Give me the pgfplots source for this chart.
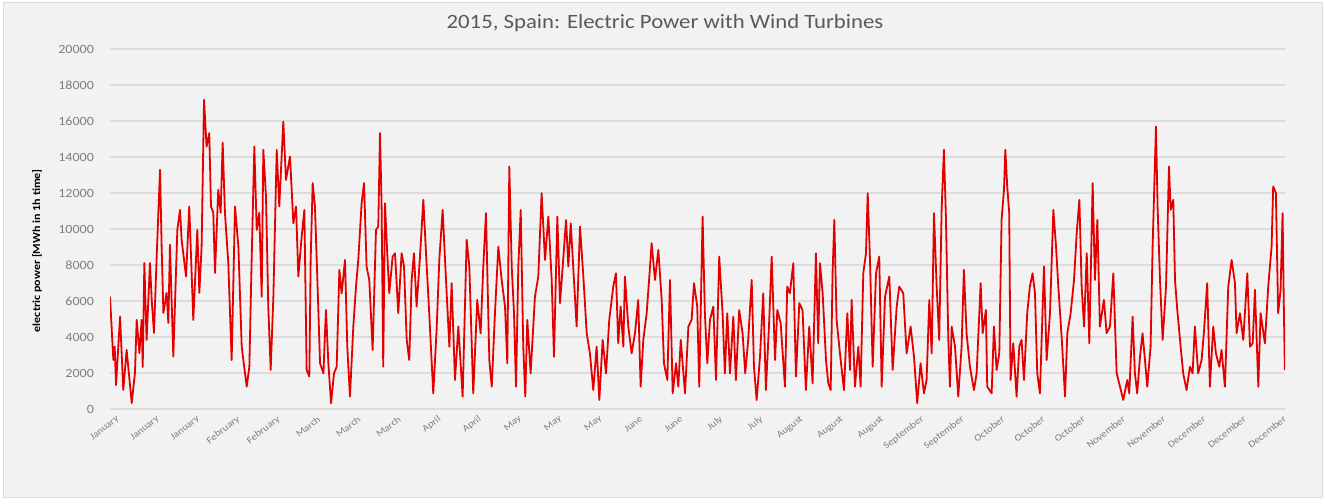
\documentclass[border=0pt]{standalone}
\usepackage{fontspec}
\setmainfont{Carlito}[FakeStretch=1.12]
\usepackage{pgfplots}
\pgfplotsset{compat=1.18}
\definecolor{titlegray}{HTML}{595959}
\definecolor{tickgray}{HTML}{7F7F7F}
\definecolor{bggray}{HTML}{F2F2F2}
\definecolor{gridgray}{HTML}{DCDCDC}
\definecolor{windred}{HTML}{E30000}

% hourly wind output 2015, hour of year vs MWh
\pgfplotstableread{
h v
0 6240
25 2720
35 3460
45 1330
75 5130
99 1060
124 3280
162 330
186 2000
199 4950
219 3110
236 4950
244 2330
256 8110
273 3840
298 8110
311 6060
328 4220
348 8470
373 13290
385 9030
398 5340
422 6450
435 4780
447 9120
472 2910
502 9950
522 11060
534 9400
567 7360
591 11250
621 4950
651 9950
666 6450
683 9030
701 17180
720 14580
740 15330
753 11250
770 10900
783 7560
807 12180
825 10900
840 14790
857 10900
882 8110
907 2720
932 11250
957 9030
982 3460
1019 1240
1039 2350
1056 8280
1076 14580
1094 9950
1113 10900
1131 6240
1143 14400
1163 11800
1180 5690
1198 2170
1218 6240
1243 14400
1262 11250
1292 15970
1312 12730
1342 14030
1367 10320
1387 11250
1404 7360
1429 9580
1449 11060
1466 2170
1486 1800
1496 8280
1511 12550
1528 11250
1546 7170
1566 2540
1591 1980
1610 5500
1628 2540
1648 320
1670 1980
1690 2350
1710 7730
1727 6430
1752 8280
1769 3460
1789 690
1814 4580
1834 6800
1851 8280
1876 11430
1894 12550
1913 7910
1933 7170
1958 3280
1983 9950
2000 10130
2013 15330
2025 11250
2037 2350
2050 11430
2067 8650
2082 6430
2107 8470
2125 8650
2149 5320
2174 8650
2192 7910
2212 3840
2231 2720
2249 7170
2266 8650
2286 5690
2311 8470
2336 11620
2356 8650
2380 5320
2410 870
2435 4390
2455 8280
2480 11060
2505 7170
2530 3460
2547 6990
2572 1610
2597 4580
2629 690
2659 9400
2679 7910
2708 870
2738 6060
2763 4210
2783 7910
2803 10880
2828 2720
2846 1240
2870 5320
2895 9020
2920 7170
2945 5690
2962 2540
2977 13470
2995 7910
3012 5320
3027 1240
3044 7910
3062 11060
3081 3460
3096 690
3111 4950
3136 1980
3168 6240
3193 7360
3218 11990
3243 8280
3268 10690
3293 7170
3310 2910
3335 10690
3355 5880
3375 7910
3400 10500
3417 7910
3435 10320
3459 7170
3479 4580
3504 10130
3529 7360
3554 4210
3578 3090
3603 1050
3628 3460
3648 500
3673 3840
3698 1980
3722 4950
3752 6800
3772 7540
3789 3650
3807 5690
3827 3460
3839 7360
3864 4580
3889 3090
3914 4210
3938 6060
3956 1240
3976 3840
4001 5320
4021 7360
4038 9210
4063 7170
4088 8840
4113 6060
4130 2540
4155 1610
4175 7170
4195 870
4220 2540
4237 1240
4255 3840
4287 870
4312 4580
4336 4950
4354 6990
4378 5690
4393 1240
4418 10690
4435 5320
4453 2540
4473 4950
4498 5690
4518 1610
4542 8470
4567 5320
4584 1980
4602 5320
4622 1980
4647 5130
4666 1610
4691 5500
4716 4210
4736 1980
4758 3840
4784 7170
4801 2350
4821 500
4846 2910
4870 6430
4890 1050
4915 4950
4933 8470
4958 2720
4975 5500
5000 4770
5032 1240
5049 6800
5069 6430
5094 8100
5114 1800
5139 5880
5163 5500
5188 1050
5213 4580
5238 1430
5263 8650
5280 3650
5293 8100
5313 6430
5338 2720
5355 1430
5373 1050
5387 7540
5400 10510
5417 4950
5442 3090
5472 1050
5497 5320
5517 2170
5529 6060
5554 1240
5579 3460
5596 1240
5616 7540
5636 8650
5649 11990
5666 8280
5686 2350
5711 7540
5735 8470
5753 1240
5778 6240
5810 7360
5835 2170
5865 5690
5884 6800
5914 6430
5939 3090
5969 4580
5994 2910
6018 320
6043 2540
6068 870
6088 1610
6108 6060
6126 3090
6143 10880
6163 6800
6182 3840
6200 11060
6217 14400
6232 10690
6250 3840
6262 1240
6275 4580
6300 3460
6324 690
6349 3460
6366 7730
6386 4210
6411 2350
6441 1050
6461 1980
6491 6990
6506 4210
6530 5500
6540 1240
6573 870
6590 4580
6610 2170
6630 3090
6647 10510
6665 12180
6675 14400
6689 12370
6704 10880
6714 1610
6734 3650
6759 690
6779 3460
6796 3840
6814 1610
6838 5320
6858 6800
6878 7540
6896 6430
6913 1980
6933 870
6963 7910
6983 2720
7008 5320
7033 11060
7053 9020
7070 6800
7095 3980
7120 690
7137 4210
7162 5320
7187 7170
7207 9770
7227 11620
7244 6800
7262 4580
7282 8650
7301 3650
7326 12550
7343 7170
7361 10510
7380 4580
7410 6060
7430 4210
7455 4580
7480 7540
7505 1980
7530 1240
7554 500
7584 1610
7599 870
7624 5130
7641 1980
7658 870
7679 2910
7698 4210
7716 2720
7733 1240
7758 3460
7773 9020
7798 15700
7810 11250
7828 7170
7848 3840
7873 6800
7895 13470
7908 11060
7927 11620
7940 7170
7957 5500
7982 3460
8001 1980
8026 1050
8051 2350
8071 1980
8088 4580
8113 1980
8138 2720
8155 4210
8180 6990
8200 1240
8225 4580
8245 3090
8270 2350
8287 3280
8312 1240
8337 6800
8362 8280
8387 6990
8399 4210
8424 5320
8449 3840
8479 7540
8499 3460
8519 3650
8536 6620
8561 1240
8578 5320
8610 3650
8635 6800
8660 9020
8672 12370
8692 11990
8709 5320
8727 6620
8742 10880
8752 5320
8759 2170
}\windtable

\begin{document}
\begin{tikzpicture}
\useasboundingbox (0,0) rectangle (662.5bp,252bp);
\fill[white] (0,0) rectangle (662.5bp,252bp);
\filldraw[fill=bggray, draw=gridgray, line width=0.5bp] (1.5bp,3bp) rectangle (661bp,250.5bp);
\node[font=\fontsize{10.2}{12}\selectfont, text=titlegray] at (332.5bp,240.5bp)
  {2015, Spain: Electric Power with Wind Turbines};
\begin{axis}[
    at={(55bp,47.5bp)}, anchor=south west,
    scale only axis, width=587.5bp, height=180bp,
    xmin=0, xmax=8760, ymin=0, ymax=20000,
    axis line style={draw=none},
    major tick length=0pt,
    ytick={0,2000,...,20000},
    xtick={0,300,...,8700},
    xticklabels={January,January,January,February,February,March,March,March,April,April,May,May,May,June,June,July,July,August,August,August,September,September,October,October,October,November,November,December,December,December},
    ymajorgrids,
    grid style={gridgray, line width=0.6bp},
    scaled y ticks=false,
    /pgf/number format/1000 sep={},
    /pgf/number format/assume math mode=true,
    yticklabel style={font=\fontsize{6.3}{7}\selectfont, text=tickgray, xshift=-4.5bp},
    xticklabel style={font=\fontsize{4.8}{6}\selectfont, text=tickgray, rotate=38, anchor=east, yshift=-6bp, xshift=1bp, inner sep=0.5pt},
    ylabel={electric power [MWh in 1h time]},
    ylabel style={font=\bfseries\fontsize{5.4}{6}\selectfont, text=black, at={(axis description cs:-0.062,0.44)}, anchor=center},
]
\addplot[windred, line width=0.9bp, line join=round] table[x=h, y=v] {\windtable};
\end{axis}
\end{tikzpicture}
\end{document}
